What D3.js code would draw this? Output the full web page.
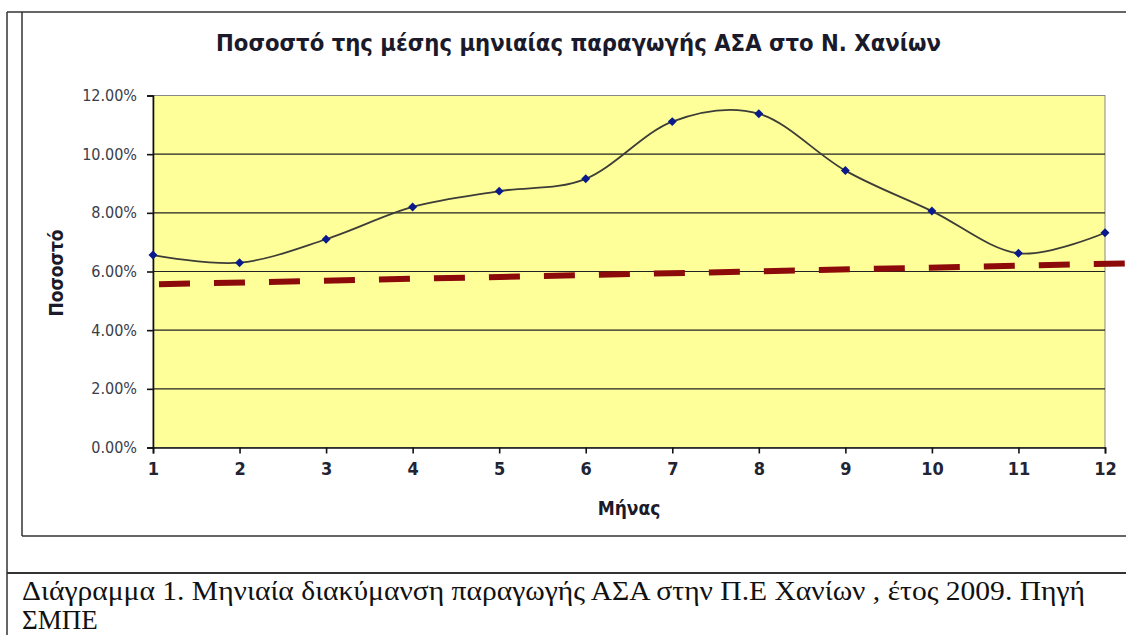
<!DOCTYPE html>
<html>
<head>
<meta charset="utf-8">
<script src="https://cdn.jsdelivr.net/npm/d3@7"></script>
<style>
    body { margin: 0; background: white; }
    svg { display: block; }
</style>
</head>
<body>
<svg id="svg"></svg>
<script>
// Global variables
let svg = d3.select("#svg");

// Size of the page / svg
const width = 1126;
const height = 635;

// Data
const months = [1, 2, 3, 4, 5, 6, 7, 8, 9, 10, 11, 12];
const shares = [6.56, 6.30, 7.10, 8.20, 8.74, 9.16, 11.11, 11.38, 9.44, 8.06, 6.62, 7.32];
const trendMonths = [1, 12.3];
const trendShares = [5.56, 6.28];
const yTicks = [0, 2, 4, 6, 8, 10, 12];

// Texts
const chartTitle = "Ποσοστό της μέσης μηνιαίας παραγωγής ΑΣΑ στο Ν. Χανίων";
const yLabel = "Ποσοστό";
const xLabel = "Μήνας";
const captionLines = [
    "Διάγραμμα 1. Μηνιαία διακύμανση παραγωγής ΑΣΑ στην Π.Ε Χανίων , έτος 2009. Πηγή",
    "ΣΜΠΕ"
];

const sansFont = "Tahoma, 'DejaVu Sans Condensed', 'Noto Sans', sans-serif";
const serifFont = "'Liberation Serif', 'Times New Roman', serif";

// Plot area
const plot = { left: 153, right: 1105, top: 95.5, bottom: 447.5 };

let x;
let y;

function drawFrame() {
    // table + chart object borders
    const frame = svg.append("g").attr("stroke", "#333").attr("fill", "none");
    frame.append("line").attr("x1", 7).attr("x2", 7).attr("y1", 12).attr("y2", height).attr("stroke-width", 1.5);
    frame.append("line").attr("x1", 7).attr("x2", width).attr("y1", 12).attr("y2", 12).attr("stroke-width", 1.5);
    frame.append("line").attr("x1", 22).attr("x2", 22).attr("y1", 12).attr("y2", 536).attr("stroke-width", 1.5);
    frame.append("line").attr("x1", 22).attr("x2", width).attr("y1", 536).attr("y2", 536).attr("stroke-width", 1.5);
    frame.append("line").attr("x1", 7).attr("x2", width).attr("y1", 573).attr("y2", 573).attr("stroke-width", 2.2);
}

function drawChart() {
    x = d3.scaleLinear().domain([1, 12]).range([plot.left, plot.right]);
    y = d3.scaleLinear().domain([0, 12]).range([plot.bottom, plot.top]);

    // yellow plot background
    svg.append("rect")
        .attr("x", plot.left)
        .attr("y", plot.top)
        .attr("width", plot.right - plot.left)
        .attr("height", plot.bottom - plot.top)
        .attr("fill", "#ffff99")
        .attr("stroke", "#888")
        .attr("stroke-width", 1);

    // gridlines
    svg.append("g")
        .selectAll("line")
        .data(yTicks.filter(d => d > 0 && d < 12))
        .enter()
        .append("line")
        .attr("x1", plot.left)
        .attr("x2", plot.right)
        .attr("y1", d => y(d))
        .attr("y2", d => y(d))
        .attr("stroke", "#222")
        .attr("stroke-width", 1.2);

    // y axis
    let yAxis = svg.append("g")
        .attr("transform", "translate(" + plot.left + ",0)")
        .call(d3.axisLeft(y).tickValues(yTicks).tickSize(6).tickPadding(10)
            .tickFormat(d => d.toFixed(2) + "%"));
    yAxis.selectAll("path, line").attr("stroke", "#111").attr("stroke-width", 1.6);
    yAxis.selectAll("text")
        .style("font-family", sansFont)
        .style("font-size", "16px")
        .attr("fill", "#3a3d4a");

    // x axis
    let xAxis = svg.append("g")
        .attr("transform", "translate(0," + plot.bottom + ")")
        .call(d3.axisBottom(x).tickValues(months).tickSize(6).tickPadding(9)
            .tickFormat(d3.format("d")));
    xAxis.selectAll("path, line").attr("stroke", "#111").attr("stroke-width", 1.6);
    xAxis.selectAll("text")
        .style("font-family", sansFont)
        .style("font-size", "18px")
        .style("font-weight", "bold")
        .attr("fill", "#222433");

    // trend line (dashed dark red)
    let trendData = trendMonths.map((m, i) => ({ m: m, v: trendShares[i] }));
    svg.append("path")
        .datum(trendData)
        .attr("d", d3.line().x(d => x(d.m)).y(d => y(d.v)))
        .attr("fill", "none")
        .attr("stroke", "#8c0a0a")
        .attr("stroke-width", 6)
        .attr("stroke-dasharray", "31,24")
        .attr("stroke-dashoffset", 49);

    // smoothed line
    let lineData = months.map((m, i) => ({ m: m, v: shares[i] }));
    svg.append("path")
        .datum(lineData)
        .attr("d", d3.line().x(d => x(d.m)).y(d => y(d.v)).curve(d3.curveCardinal.tension(0)))
        .attr("fill", "none")
        .attr("stroke", "#3c3c38")
        .attr("stroke-width", 1.8);

    // diamond markers (rotated squares)
    svg.append("g")
        .selectAll("path")
        .data(lineData)
        .enter()
        .append("path")
        .attr("transform", d => "translate(" + x(d.m) + "," + y(d.v) + ") rotate(45)")
        .attr("d", d3.symbol().type(d3.symbolSquare).size(40))
        .attr("fill", "#0b1a8a");

    // title
    svg.append("text")
        .attr("x", 578.5)
        .attr("y", 51)
        .attr("text-anchor", "middle")
        .attr("textLength", 725)
        .attr("lengthAdjust", "spacingAndGlyphs")
        .style("font-family", sansFont)
        .style("font-size", "23px")
        .style("font-weight", "bold")
        .attr("fill", "#1a1a2a")
        .text(chartTitle);

    // y axis title
    svg.append("text")
        .attr("transform", "translate(63,273) rotate(-90)")
        .attr("text-anchor", "middle")
        .style("font-family", sansFont)
        .style("font-size", "19px")
        .style("font-weight", "bold")
        .attr("fill", "#1a1a2a")
        .text(yLabel);

    // x axis title
    svg.append("text")
        .attr("x", 629)
        .attr("y", 515)
        .attr("text-anchor", "middle")
        .style("font-family", sansFont)
        .style("font-size", "19px")
        .style("font-weight", "bold")
        .attr("fill", "#1a1a2a")
        .text(xLabel);
}

function drawCaption() {
    svg.append("text")
        .attr("x", 22)
        .attr("y", 600)
        .attr("textLength", 1063)
        .attr("lengthAdjust", "spacingAndGlyphs")
        .style("font-family", serifFont)
        .style("font-size", "28px")
        .attr("fill", "#111")
        .text(captionLines[0]);

    svg.append("text")
        .attr("x", 22)
        .attr("y", 629)
        .style("font-family", serifFont)
        .style("font-size", "27px")
        .attr("fill", "#111")
        .text(captionLines[1]);
}

function initialize() {
    svg.attr("width", width).attr("height", height);
    svg.selectAll("*").remove();
    drawFrame();
    drawChart();
    drawCaption();
}

initialize();
</script>
</body>
</html>
